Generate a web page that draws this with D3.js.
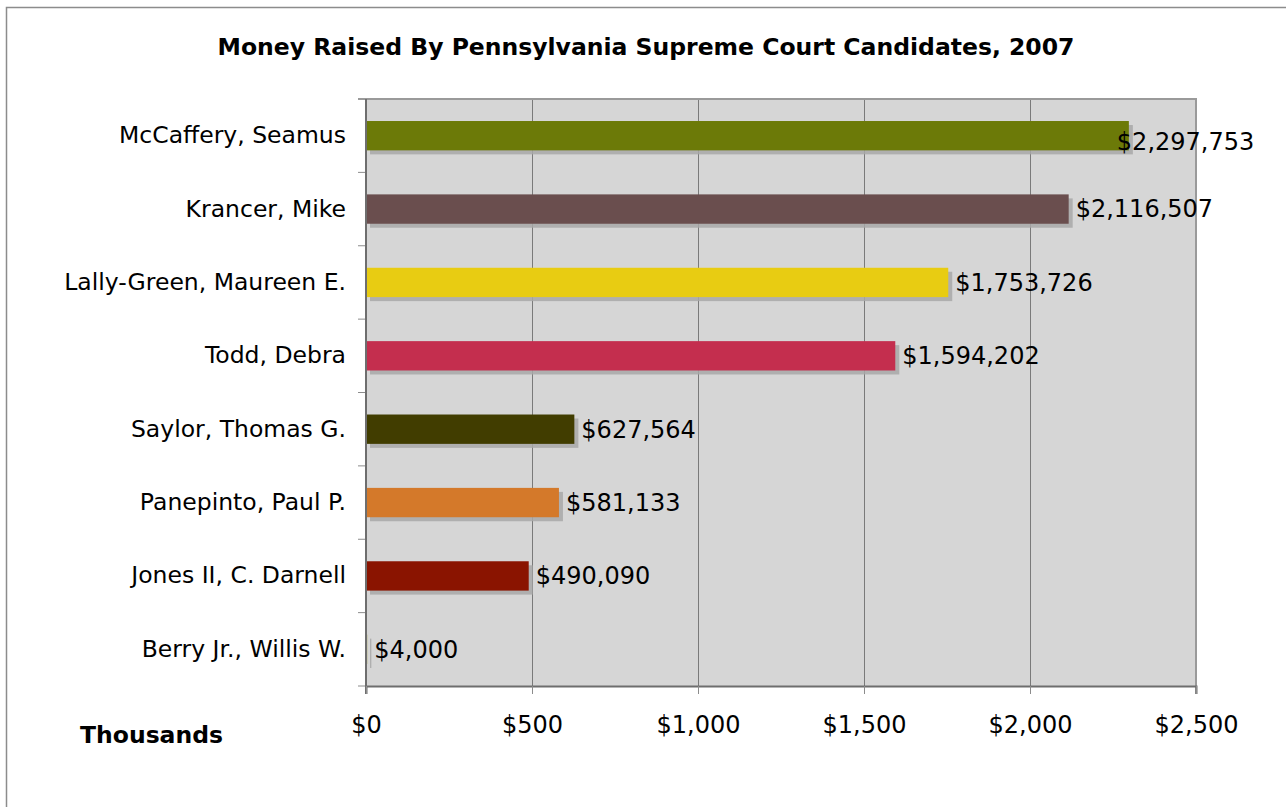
<!DOCTYPE html>
<html><head><meta charset="utf-8">
<script src="https://cdn.jsdelivr.net/npm/d3@7"></script>
<style>body{margin:0;background:#fff;} svg{display:block;font-family:"DejaVu Sans",Verdana,sans-serif;}</style>
</head><body>
<svg id="c" width="1286" height="807"></svg>
<script>
const candidates = ["McCaffery, Seamus","Krancer, Mike","Lally-Green, Maureen E.","Todd, Debra","Saylor, Thomas G.","Panepinto, Paul P.","Jones II, C. Darnell","Berry Jr., Willis W."];
const amounts = [2297753,2116507,1753726,1594202,627564,581133,490090,4000];
const barColors = ["#6c7a08","#6a4e4e","#e8cc12","#c42e4e","#413d00","#d4792a","#8a1400","#b8b878"];
const tickValues = [0,500,1000,1500,2000,2500];
const title = "Money Raised By Pennsylvania Supreme Court Candidates, 2007";
const unitLabel = "Thousands";

const svg = d3.select("#c");
const m = {left:366, top:99, right:1196, bottom:686};
const x = d3.scaleLinear().domain([0,2500]).range([m.left,m.right]);
const y = d3.scaleBand().domain(candidates).range([m.top,m.bottom]).paddingInner(0.6).paddingOuter(0.3);

// outer frame
svg.append("rect").attr("x",6.5).attr("y",7.5).attr("width",1300).attr("height",900)
  .attr("fill","#fff").attr("stroke","#8c8c8c").attr("stroke-width",1.5);

// plot background
svg.append("rect").attr("x",m.left).attr("y",m.top).attr("width",m.right-m.left).attr("height",m.bottom-m.top).attr("fill","#d6d6d6");

// vertical gridlines
svg.append("g").selectAll("line").data(tickValues.slice(1,-1)).join("line")
  .attr("x1",d=>x(d)+0.5).attr("x2",d=>x(d)+0.5).attr("y1",m.top).attr("y2",m.bottom)
  .attr("stroke","#7a7a7a").attr("stroke-width",1);

// top/right border
svg.append("path").attr("d",`M${m.left-8},${m.top} H${m.right} V${m.bottom+8}`)
  .attr("fill","none").attr("stroke","#9a9a9a").attr("stroke-width",2);

// shadows
const bw = y.bandwidth();
svg.append("g").selectAll("rect").data(amounts).join("rect")
  .attr("x",m.left+4).attr("y",(d,i)=>y(candidates[i])+4)
  .attr("width",d=>Math.max(1,x(d/1000)-m.left))
  .attr("height",bw).attr("fill","#a8a8a8").attr("opacity",0.85);
// bars
svg.append("g").selectAll("rect").data(amounts).join("rect")
  .attr("x",m.left).attr("y",(d,i)=>y(candidates[i]))
  .attr("width",d=>Math.max(1.3,x(d/1000)-m.left))
  .attr("height",bw).attr("fill",(d,i)=>barColors[i]);

// left axis
const ya = d3.axisLeft(y).tickSize(0).tickPadding(20);
const gy = svg.append("g").attr("transform",`translate(${m.left},0)`).call(ya);
gy.select(".domain").remove();
gy.selectAll("text").attr("font-size",23.5).attr("fill","#000").attr("font-family","DejaVu Sans, Verdana, sans-serif");
// category boundary ticks
const bounds = candidates.map(c=>y(c)-y.step()*y.paddingInner()/2).concat([m.bottom]);
svg.append("g").selectAll("line").data(bounds.slice(1)).join("line")
  .attr("x1",m.left-8).attr("x2",m.left).attr("y1",d=>d).attr("y2",d=>d)
  .attr("stroke","#8c8c8c").attr("stroke-width",1);
svg.append("line").attr("x1",m.left).attr("x2",m.left).attr("y1",m.top).attr("y2",m.bottom+8)
  .attr("stroke","#6e6e6e").attr("stroke-width",2);

// bottom axis
const xa = d3.axisBottom(x).tickValues(tickValues).tickSize(8).tickPadding(22)
  .tickFormat(d=>"$"+d3.format(",")(d));
const gx = svg.append("g").attr("transform",`translate(0,${m.bottom})`).call(xa);
gx.select(".domain").attr("stroke","#6e6e6e").attr("stroke-width",2);
gx.selectAll(".tick line").attr("stroke","#8c8c8c");
gx.selectAll("text").attr("font-size",24).attr("fill","#000").attr("font-family","DejaVu Sans, Verdana, sans-serif");

// value labels
svg.append("g").selectAll("text").data(amounts).join("text")
  .attr("x",(d,i)=>x(d/1000)+(i===0?-12:7))
  .attr("y",(d,i)=>y(candidates[i])+bw/2+(i===0?6:0))
  .attr("dy","0.35em").attr("font-size",24).attr("fill","#000")
  .text(d=>"$"+d3.format(",")(d));

// title
svg.append("text").attr("x",646).attr("y",55).attr("text-anchor","middle")
  .attr("font-size",23.5).attr("font-weight","bold").text(title);
svg.append("text").attr("x",80).attr("y",743)
  .attr("font-size",23.5).attr("font-weight","bold").text(unitLabel);
</script>
</body></html>
